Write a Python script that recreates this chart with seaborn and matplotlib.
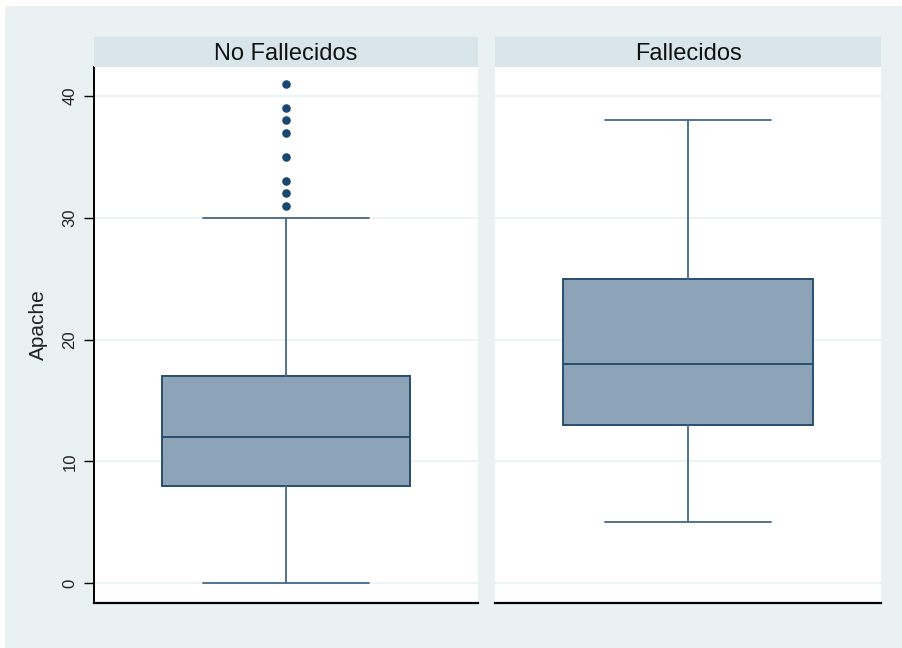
import matplotlib
matplotlib.use("Agg")
import matplotlib.pyplot as plt
import seaborn as sns
import pandas as pd

# Summary statistics of the Apache score by outcome group
groups = ["No Fallecidos", "Fallecidos"]
whisker_low = [0, 5]
q1 = [8, 13]
median = [12, 18]
q3 = [17, 25]
whisker_high = [30, 38]

# Outlying observations (No Fallecidos group only)
outlier_group = ["No Fallecidos"] * 8
outlier_values = [31, 32, 33, 35, 37, 38, 39, 41]

y_ticks = [0, 10, 20, 30, 40]

sns.set_theme(style="white")
plt.rcParams["font.family"] = ["Liberation Sans", "DejaVu Sans"]

BG = "#EAF1F3"
STRIP = "#D8E5EB"
GRID = "#E9F1F3"
BOX_FILL = "#8CA3B8"
BOX_EDGE = "#284D70"
LINE = "#45678A"
DOT = "#1A476F"

W, H = 902, 648
fig = plt.figure(figsize=(W / 100, H / 100), dpi=100, facecolor="white")
fig.patches.append(plt.Rectangle((5 / W, 0), 1, 1 - 6 / H, transform=fig.transFigure,
                                 facecolor=BG, edgecolor="none", zorder=-10))

panels = [(94, 478), (495, 881)]
top, bottom, strip_top = 67, 603, 37
outliers = pd.DataFrame({"group": outlier_group, "Apache": outlier_values})

for i, (x0, x1) in enumerate(panels):
    ax = fig.add_axes([x0 / W, 1 - bottom / H, (x1 - x0) / W, (bottom - top) / H])
    ax.set_facecolor("white")
    ax.set_ylim(-1.64, 42.38)
    ax.set_xlim(-0.5, 0.5)
    ax.set_yticks(y_ticks)
    for t in y_ticks:
        ax.axhline(t, color=GRID, lw=1.2, zorder=0)

    stats = [{
        "whislo": whisker_low[i], "q1": q1[i], "med": median[i],
        "q3": q3[i], "whishi": whisker_high[i], "fliers": [],
    }]
    ax.bxp(stats, positions=[0], widths=0.646, patch_artist=True,
           showfliers=False, showcaps=True,
           boxprops=dict(facecolor=BOX_FILL, edgecolor=BOX_EDGE, linewidth=1.4),
           medianprops=dict(color=BOX_EDGE, linewidth=1.4),
           whiskerprops=dict(color=LINE, linewidth=1.3),
           capprops=dict(color=LINE, linewidth=1.3),
           capwidths=0.43, zorder=2)

    sub = outliers[outliers["group"] == groups[i]]
    if len(sub):
        sub = sub.assign(x=0.0)
        sns.scatterplot(data=sub, x="x", y="Apache", ax=ax, color=DOT,
                        s=38, edgecolor=DOT, linewidth=0, zorder=3, legend=False)

    ax.set_xticks([])
    ax.set_xlabel("")
    for s in ["top", "right"]:
        ax.spines[s].set_visible(False)
    ax.spines["bottom"].set_color("black")
    ax.spines["bottom"].set_linewidth(1.6)
    if i == 0:
        ax.spines["left"].set_color("black")
        ax.spines["left"].set_linewidth(1.4)
        ax.tick_params(axis="y", left=True, length=7, width=1, color="black",
                       labelsize=12, pad=5, labelcolor="#222222")
        for lab in ax.get_yticklabels():
            lab.set_rotation(90)
            lab.set_va("center")
        ax.set_ylabel("Apache", fontsize=15, color="#222222")
        ax.yaxis.set_label_coords(-0.12, 0.52)
    else:
        ax.spines["left"].set_visible(False)
        ax.tick_params(axis="y", left=False, labelleft=False)
        ax.set_ylabel("")

    # Panel header strip
    sax = fig.add_axes([x0 / W, 1 - top / H, (x1 - x0) / W, (top - strip_top) / H])
    sax.set_facecolor(STRIP)
    sax.set_xticks([]); sax.set_yticks([])
    for s in sax.spines.values():
        s.set_visible(False)
    sax.text(0.5, 0.45, groups[i], ha="center", va="center", fontsize=17,
             color="#111111", transform=sax.transAxes)

fig.savefig("out.png", dpi=100, facecolor=fig.get_facecolor())
